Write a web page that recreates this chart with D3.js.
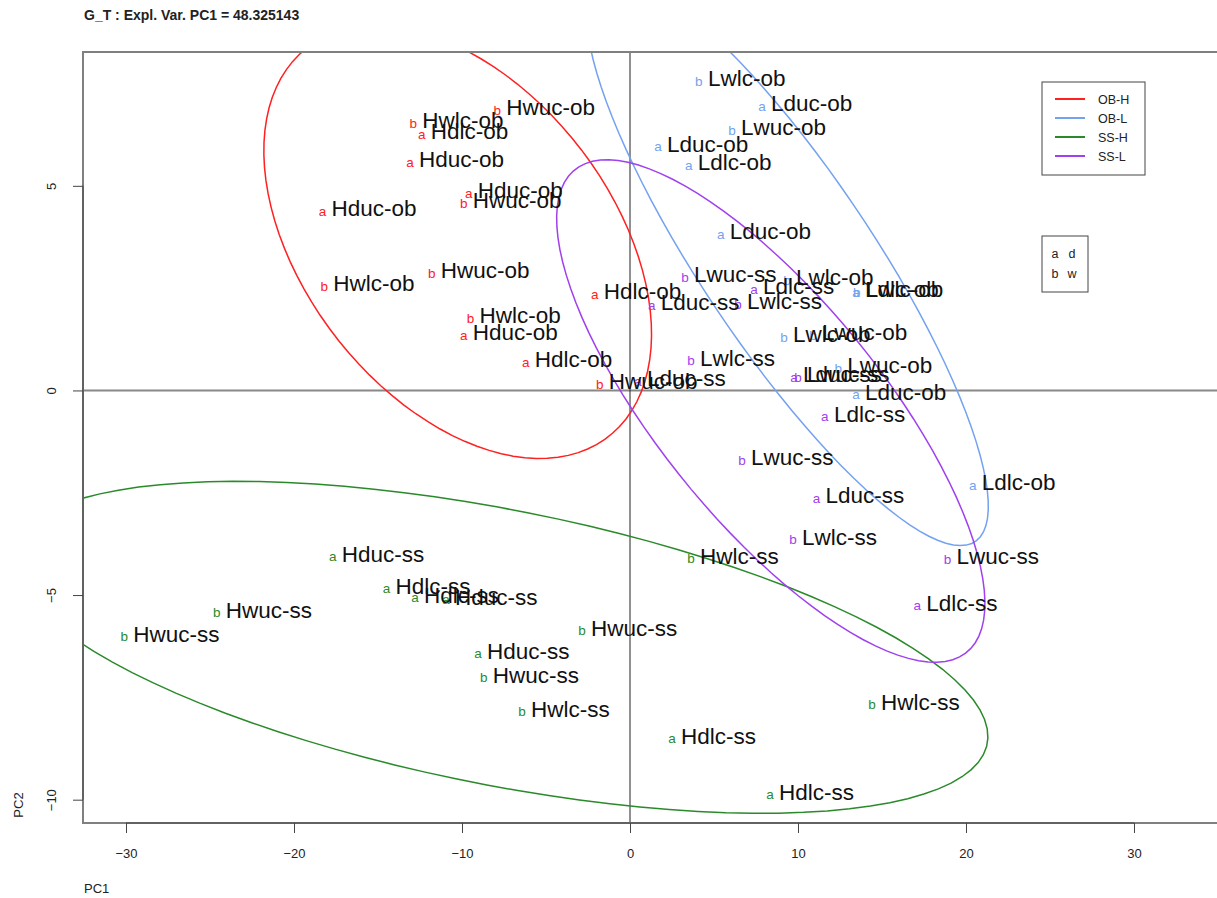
<!DOCTYPE html>
<html>
<head>
<meta charset="utf-8">
<script src="https://cdn.jsdelivr.net/npm/d3@7"></script>
<style>
  body { margin: 0; background: #fff; }
  svg { font-family: "Liberation Sans", Arial, Helvetica, sans-serif; }
</style>
</head>
<body>
<div id="chart"></div>
<script>
// groups
const groupNames = ['OB-H', 'OB-L', 'SS-H', 'SS-L'];
const groupColors = ['#ff2020', '#73a2f0', '#2a8a2a', '#a040ee'];

// samples (group index, marker letter, label, PC1, PC2)
const sampleGroup = [
  0,0,0,0,0,0,0,0,0,0,0,0,0,0,
  1,1,1,1,1,1,1,1,1,1,1,1,1,1,
  2,2,2,2,2,2,2,2,2,2,2,2,2,2,
  3,3,3,3,3,3,3,3,3,3,3,3,3,3
];
const sampleMarker = [
  'b','a','b','a','a','b','a','b','b','b','a','a','a','b',
  'b','a','b','a','a','a','b','a','b','b','b','b','a','a',
  'a','a','a','a','b','b','b','a','b','b','b','a','b','a',
  'b','a','a','b','b','a','a','b','a','b','a','b','b','a'
];
const sampleLabel = [
  'Hwlc-ob','Hdlc-ob','Hwuc-ob','Hduc-ob','Hduc-ob','Hwuc-ob','Hduc-ob',
  'Hwuc-ob','Hwlc-ob','Hwlc-ob','Hduc-ob','Hdlc-ob','Hdlc-ob','Hwuc-ob',
  'Lwlc-ob','Lduc-ob','Lwuc-ob','Lduc-ob','Ldlc-ob','Lduc-ob','Lwlc-ob',
  'Ldlc-ob','Lwlc-ob','Lwlc-ob','Lwuc-ob','Lwuc-ob','Lduc-ob','Ldlc-ob',
  'Hduc-ss','Hdlc-ss','Hdlc-ss','Hduc-ss','Hwuc-ss','Hwuc-ss','Hwuc-ss',
  'Hduc-ss','Hwuc-ss','Hwlc-ss','Hwlc-ss','Hdlc-ss','Hwlc-ss','Hdlc-ss',
  'Lwuc-ss','Lduc-ss','Ldlc-ss','Lwlc-ss','Lwlc-ss','Lduc-ss','Lduc-ss',
  'Lwuc-ss','Ldlc-ss','Lwuc-ss','Lduc-ss','Lwlc-ss','Lwuc-ss','Ldlc-ss'
];
const pc1 = [
  -12.9, -12.4, -7.9, -13.1, -9.6, -9.9, -18.3, -11.8, -18.2, -9.5, -9.9, -2.1, -6.2, -1.8,
  4.1, 7.86, 6.07, 1.67, 3.5, 5.4, 9.35, 13.45, 13.5, 9.17, 10.9, 12.4, 13.45, 20.4,
  -17.7, -14.5, -12.8, -10.95, -24.6, -30.1, -2.86, -9.05, -8.7, -6.43, 3.63, 2.5, 14.4, 8.33,
  3.27, 1.3, 7.38, 6.43, 3.63, 0.48, 9.76, 10.0, 11.6, 6.67, 11.1, 9.7, 18.9, 17.1
];
const pc2 = [
  6.53, 6.26, 6.85, 5.58, 4.82, 4.58, 4.38, 2.86, 2.54, 1.76, 1.35, 2.35, 0.69, 0.15,
  7.56, 6.95, 6.36, 5.95, 5.5, 3.82, 2.69, 2.4, 2.4, 1.3, 1.35, 0.54, -0.1, -2.32,
  -4.06, -4.84, -5.07, -5.11, -5.43, -6.02, -5.87, -6.43, -7.02, -7.85, -4.11, -8.51, -7.68, -9.88,
  2.76, 2.08, 2.47, 2.1, 0.73, 0.22, 0.32, 0.32, -0.64, -1.71, -2.64, -3.65, -4.13, -5.26
];

const xTicks = [-30, -20, -10, 0, 10, 20, 30];
const yTicks = [-10, -5, 0, 5];
const titleText = 'G_T : Expl. Var. PC1 = 48.325143';
const markerKey = [['a', 'd'], ['b', 'w']];

const W = 1217, H = 898;
const box = { left: 83, top: 52, right: 1240, bottom: 823 };

const svg = d3.select('#chart').append('svg')
  .attr('width', W)
  .attr('height', H);

const x = d3.scaleLinear().domain([-32.56, 36.31]).range([box.left, box.right]);
const y = d3.scaleLinear().domain([-10.57, 8.27]).range([box.bottom, box.top]);

svg.append('defs').append('clipPath').attr('id', 'plotclip')
  .append('rect')
  .attr('x', box.left).attr('y', box.top)
  .attr('width', box.right - box.left).attr('height', box.bottom - box.top);

// title
svg.append('text')
  .attr('x', 84).attr('y', 20)
  .attr('font-size', 14).attr('font-weight', 'bold')
  .attr('fill', '#222')
  .text(titleText);

const plot = svg.append('g').attr('clip-path', 'url(#plotclip)');

// zero lines
plot.append('line')
  .attr('x1', box.left).attr('x2', box.right)
  .attr('y1', y(0)).attr('y2', y(0))
  .attr('stroke', '#888').attr('stroke-width', 2);
plot.append('line')
  .attr('x1', x(0)).attr('x2', x(0))
  .attr('y1', box.top).attr('y2', box.bottom)
  .attr('stroke', '#222').attr('stroke-width', 1);

// 95% ellipses from each group's covariance (n denominator)
const tVal = Math.sqrt(5.991465);
const ellipse = (xs, ys) => {
  const n = xs.length;
  const mx = d3.mean(xs), my = d3.mean(ys);
  const sx = Math.sqrt(d3.sum(xs, v => (v - mx) ** 2) / n);
  const sy = Math.sqrt(d3.sum(ys, v => (v - my) ** 2) / n);
  let cov = 0;
  xs.forEach((v, i) => { cov += (v - mx) * (ys[i] - my); });
  cov /= n;
  const d = Math.acos(cov / (sx * sy));
  return d3.range(100).map(i => {
    const a = 2 * Math.PI * i / 99;
    return [tVal * sx * Math.cos(a + d / 2) + mx, tVal * sy * Math.cos(a - d / 2) + my];
  });
};

const line = d3.line()
  .x(d => x(d[0]))
  .y(d => y(d[1]))
  .curve(d3.curveLinearClosed);

groupNames.forEach((g, gi) => {
  const idx = d3.range(pc1.length).filter(i => sampleGroup[i] === gi);
  const pts = ellipse(idx.map(i => pc1[i]), idx.map(i => pc2[i]));
  plot.append('path')
    .attr('d', line(pts))
    .attr('fill', 'none')
    .attr('stroke', groupColors[gi])
    .attr('stroke-width', 1.5);
});

// samples
const idxAll = d3.range(pc1.length);
plot.selectAll('.marker')
  .data(idxAll)
  .enter()
  .append('text')
  .attr('class', 'marker')
  .attr('x', i => x(pc1[i]))
  .attr('y', i => y(pc2[i]) + 4.5)
  .attr('text-anchor', 'middle')
  .attr('font-size', 13.5)
  .attr('fill', i => groupColors[sampleGroup[i]])
  .text(i => sampleMarker[i]);

plot.selectAll('.label')
  .data(idxAll)
  .enter()
  .append('text')
  .attr('class', 'label')
  .attr('x', i => x(pc1[i]) + 9)
  .attr('y', i => y(pc2[i]) + 5)
  .attr('font-size', 22.5)
  .attr('fill', '#111')
  .text(i => sampleLabel[i]);

// box
svg.append('rect')
  .attr('x', box.left).attr('y', box.top)
  .attr('width', box.right - box.left).attr('height', box.bottom - box.top)
  .attr('fill', 'none')
  .attr('stroke', '#808080').attr('stroke-width', 2);

// axes
const xAxis = d3.axisBottom(x).tickValues(xTicks).tickSize(10).tickPadding(16);
const gx = svg.append('g')
  .attr('transform', `translate(0,${box.bottom})`)
  .call(xAxis);
gx.select('.domain').attr('d', `M${x(-30)},0H${x(30)}`).attr('stroke', '#444');
gx.selectAll('.tick line').attr('stroke', '#444');
gx.selectAll('.tick text').attr('font-size', 13).attr('fill', '#222')
  .attr('font-family', '"Liberation Sans", Arial, sans-serif');

const yAxis = d3.axisLeft(y).tickValues(yTicks).tickSize(10).tickFormat(d3.format('d'));
const gy = svg.append('g')
  .attr('transform', `translate(${box.left},0)`)
  .call(yAxis);
gy.select('.domain').attr('d', `M0,${y(-10)}V${y(5)}`).attr('stroke', '#444');
gy.selectAll('.tick line').attr('stroke', '#444');
gy.selectAll('.tick text')
  .attr('font-size', 13).attr('fill', '#222')
  .attr('font-family', '"Liberation Sans", Arial, sans-serif')
  .attr('x', 0).attr('dy', 0)
  .attr('text-anchor', 'middle')
  .attr('transform', 'translate(-27,0) rotate(-90)');

// axis titles
svg.append('text')
  .attr('x', 84).attr('y', 893)
  .attr('font-size', 13).attr('fill', '#222')
  .text('PC1');
svg.append('text')
  .attr('transform', 'translate(23,805) rotate(-90)')
  .attr('text-anchor', 'middle')
  .attr('font-size', 13).attr('fill', '#222')
  .text('PC2');

// group legend
const leg = svg.append('g').attr('transform', 'translate(1042,82)');
leg.append('rect')
  .attr('width', 103).attr('height', 93)
  .attr('fill', '#fff').attr('stroke', '#444').attr('stroke-width', 1);
groupNames.forEach((g, gi) => {
  const ly = 17 + gi * 19;
  leg.append('line')
    .attr('x1', 13).attr('x2', 43).attr('y1', ly).attr('y2', ly)
    .attr('stroke', groupColors[gi]).attr('stroke-width', 2);
  leg.append('text')
    .attr('x', 56).attr('y', ly + 4.5)
    .attr('font-size', 12.5).attr('fill', '#222')
    .text(g);
});

// marker key
const key = svg.append('g').attr('transform', 'translate(1042,236)');
key.append('rect')
  .attr('width', 46).attr('height', 56)
  .attr('fill', '#fff').attr('stroke', '#444').attr('stroke-width', 1);
markerKey.forEach((row, ri) => {
  row.forEach((c, ci) => {
    key.append('text')
      .attr('x', 13 + ci * 17).attr('y', 22 + ri * 20)
      .attr('text-anchor', 'middle')
      .attr('font-size', 12.5).attr('fill', '#222')
      .text(c);
  });
});
</script>
</body>
</html>
